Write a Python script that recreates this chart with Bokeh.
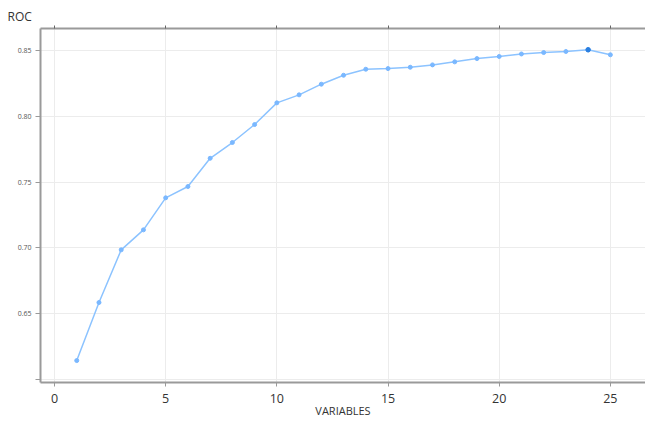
from bokeh.plotting import figure
from bokeh.models import LinearAxis, FixedTicker, Range1d, ColumnDataSource, PrintfTickFormatter
from bokeh.embed import file_html
from bokeh.resources import INLINE

variables = list(range(1, 26))
roc = [0.6142, 0.6584, 0.6985, 0.7137, 0.7381, 0.7467, 0.7682, 0.7802, 0.7939, 0.8104,
       0.8165, 0.8246, 0.8314, 0.8360, 0.8365, 0.8375, 0.8393, 0.8416, 0.8441, 0.8457,
       0.8476, 0.8487, 0.8495, 0.8508, 0.8470]
x_ticks = [0, 5, 10, 15, 20, 25]
y_ticks = [0.60, 0.65, 0.70, 0.75, 0.80, 0.85]

best = roc.index(max(roc))

p = figure(width=645, height=422, output_backend="svg", toolbar_location=None,
           x_range=Range1d(-0.63, 26.58), y_range=Range1d(0.5975, 0.867),
           min_border_left=40, min_border_right=0, min_border_top=28, min_border_bottom=40,
           x_axis_label="VARIABLES", background_fill_color="white", border_fill_color="white")
p.outline_line_color = None

p.title.text = "ROC"
p.title.align = "left"
p.title.offset = -33
p.title.text_font = "Open Sans"
p.title.text_font_size = "12px"
p.title.text_font_style = "normal"
p.title.text_color = "#333333"
p.title.standoff = 2

axis_col = "#9a9a9a"
xa = p.xaxis[0]
xa.ticker = FixedTicker(ticks=x_ticks)
xa.axis_line_color = axis_col
xa.axis_line_width = 2
xa.major_tick_line_color = axis_col
xa.major_tick_out = 4
xa.major_tick_in = 0
xa.minor_tick_line_color = None
xa.major_label_text_font = "Open Sans"
xa.major_label_text_font_size = "12.5px"
xa.major_label_text_color = "#333333"
xa.major_label_standoff = 7
xa.axis_label_text_font = "Open Sans"
xa.axis_label_text_font_size = "11px"
xa.axis_label_text_font_style = "normal"
xa.axis_label_text_color = "#333333"
xa.axis_label_standoff = -3

ya = p.yaxis[0]
ya.ticker = FixedTicker(ticks=y_ticks)
ya.formatter = PrintfTickFormatter(format="%.2f")
ya.major_label_overrides = {0.6: ""}
ya.axis_line_color = axis_col
ya.axis_line_width = 2
ya.major_tick_line_color = axis_col
ya.major_tick_out = 5
ya.major_tick_in = 0
ya.minor_tick_line_color = None
ya.major_label_text_font = "Open Sans"
ya.major_label_text_font_size = "7px"
ya.major_label_text_color = "#555555"
ya.major_label_standoff = 4

top = LinearAxis(ticker=FixedTicker(ticks=x_ticks))
top.axis_line_color = axis_col
top.axis_line_width = 2
top.major_tick_line_color = "#666666"
top.major_tick_out = 3
top.major_tick_in = 0
top.minor_tick_line_color = None
top.major_label_overrides = {t: "" for t in x_ticks}
top.major_label_text_font_size = "1px"
top.major_label_standoff = 0
p.add_layout(top, "above")

p.xgrid.ticker = FixedTicker(ticks=x_ticks)
p.ygrid.ticker = FixedTicker(ticks=y_ticks)
p.xgrid.grid_line_color = "#ececec"
p.ygrid.grid_line_color = "#ececec"

src = ColumnDataSource(dict(x=variables, y=roc))
p.line("x", "y", source=src, line_color="#8cc3ff", line_width=1.5)
p.scatter("x", "y", source=src, size=4, fill_color="#7ab8ff", line_color="#7ab8ff")
p.scatter([variables[best]], [roc[best]], size=4.5, fill_color="#2a7fe0", line_color="#2a7fe0")

open("out.html", "w").write(file_html(p, INLINE))
